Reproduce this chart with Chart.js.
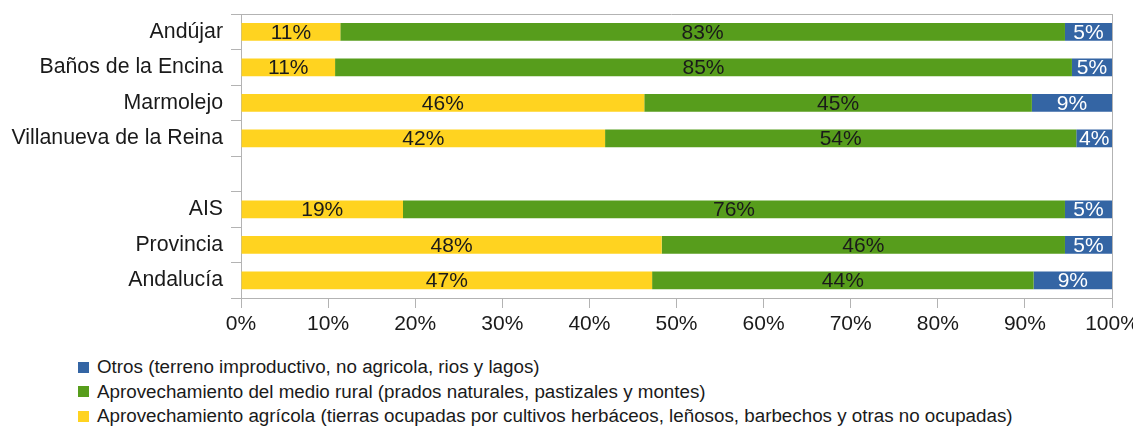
<!DOCTYPE html>
<html>
<head>
<meta charset="utf-8">
<script src="https://cdn.jsdelivr.net/npm/chart.js@4"></script>
<style>
  html, body { margin: 0; padding: 0; background: #fff; }
  #wrap { position: relative; width: 1133px; height: 427px; font-family: "Liberation Sans", Arial, sans-serif; }
  #box { position: absolute; left: 0; top: 0; width: 1133px; height: 345px; }
  #legend { position: absolute; left: 78px; top: 355px; font-size: 18.8px; color: #1a1a1a; white-space: nowrap; }
  #legend div { display: flex; align-items: center; height: 24.5px; }
  #legend span.sw { width: 11px; height: 11px; margin-right: 8px; display: inline-block; flex: none; }
</style>
</head>
<body>
<div id="wrap">
  <div id="box"><canvas id="c"></canvas></div>
  <div id="legend"></div>
</div>
<script>
const categories = ['Andújar', 'Baños de la Encina', 'Marmolejo', 'Villanueva de la Reina', '', 'AIS', 'Provincia', 'Andalucía'];
const agricola = [11.4, 10.8, 46.3, 41.8, null, 18.6, 48.3, 47.2];
const rural = [83.2, 84.6, 44.5, 54.1, null, 76.0, 46.3, 43.8];
const otros = [5.4, 4.6, 9.2, 4.1, null, 5.4, 5.4, 9.0];
const seriesNames = [
  'Aprovechamiento agrícola (tierras ocupadas por cultivos herbáceos, leñosos, barbechos y otras no ocupadas)',
  'Aprovechamiento del medio rural (prados naturales, pastizales y montes)',
  'Otros (terreno improductivo, no agricola, rios y lagos)'
];
const xTicks = [0, 10, 20, 30, 40, 50, 60, 70, 80, 90, 100];

const colors = ['#ffd320', '#579d1c', '#3465a4'];
const labelColors = ['#1a1a1a', '#1a1a1a', '#ffffff'];
const gray = '#b3b3b3';
const fontFamily = '"Liberation Sans", Arial, sans-serif';

// draws the percentages inside each segment and the top frame line
const barLabels = {
  id: 'barLabels',
  afterDatasetsDraw(chart) {
    const ctx = chart.ctx;
    ctx.save();
    ctx.font = '21px ' + fontFamily;
    ctx.textAlign = 'center';
    ctx.textBaseline = 'middle';
    chart.data.datasets.forEach((ds, i) => {
      chart.getDatasetMeta(i).data.forEach((bar, j) => {
        const v = ds.data[j];
        if (v == null) return;
        const p = bar.getProps(['x', 'y', 'base'], true);
        ctx.fillStyle = labelColors[i];
        ctx.fillText(Math.round(v) + '%', (p.x + p.base) / 2, p.y + 1);
      });
    });
    const a = chart.chartArea;
    ctx.strokeStyle = gray;
    ctx.lineWidth = 1;
    ctx.beginPath();
    ctx.moveTo(a.left - 10, a.top + 0.5);
    ctx.lineTo(a.right, a.top + 0.5);
    ctx.stroke();
    ctx.restore();
  }
};

new Chart(document.getElementById('c'), {
  type: 'bar',
  data: {
    labels: categories,
    datasets: [
      { label: seriesNames[0], data: agricola, backgroundColor: colors[0] },
      { label: seriesNames[1], data: rural, backgroundColor: colors[1] },
      { label: seriesNames[2], data: otros, backgroundColor: colors[2] }
    ]
  },
  options: {
    indexAxis: 'y',
    responsive: true,
    maintainAspectRatio: false,
    animation: false,
    layout: { padding: { top: 14, right: 21, left: 0, bottom: 0 } },
    datasets: { bar: { barPercentage: 0.5, categoryPercentage: 1 } },
    plugins: {
      legend: { display: false },
      tooltip: { enabled: false }
    },
    scales: {
      x: {
        stacked: true,
        min: 0,
        max: 100,
        afterBuildTicks: s => { s.ticks = xTicks.map(v => ({ value: v })); },
        afterFit: s => { s.height = 47; s.paddingLeft = 0; s.paddingRight = 0; },
        ticks: {
          callback: v => v + '%',
          color: '#1a1a1a',
          font: { size: 21, family: fontFamily },
          padding: 4,
          maxRotation: 0
        },
        grid: {
          color: c => (c.tick && c.tick.value === 100 ? gray : 'rgba(0,0,0,0)'),
          tickColor: gray,
          tickLength: 10
        },
        border: { display: true, color: gray }
      },
      y: {
        stacked: true,
        afterFit: s => { s.width = 241; s.paddingTop = 0; s.paddingBottom = 0; },
        ticks: {
          color: '#1a1a1a',
          font: { size: 21.3, family: fontFamily },
          padding: 8
        },
        grid: {
          offset: true,
          drawOnChartArea: false,
          tickColor: gray,
          tickLength: 10
        },
        border: { display: true, color: gray }
      }
    }
  },
  plugins: [barLabels]
});

// legend, listed in reverse series order like the original
const legend = document.getElementById('legend');
[2, 1, 0].forEach(i => {
  const row = document.createElement('div');
  const sw = document.createElement('span');
  sw.className = 'sw';
  sw.style.background = colors[i];
  row.appendChild(sw);
  row.appendChild(document.createTextNode(seriesNames[i]));
  legend.appendChild(row);
});
</script>
</body>
</html>
